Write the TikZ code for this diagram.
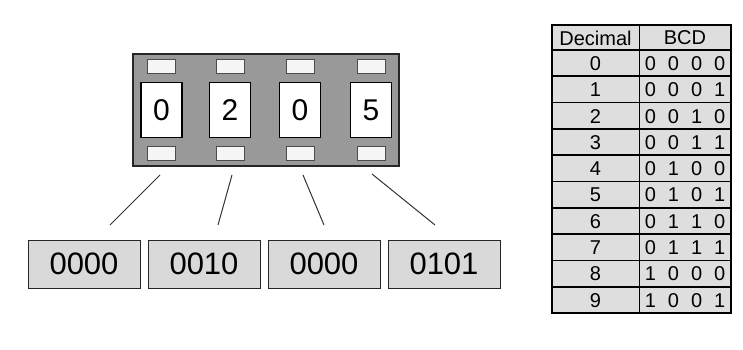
\documentclass[tikz,border=0pt]{standalone}
\usepackage{fontspec}
\setmainfont{Liberation Sans}
\newcommand{\bcdsp}[4]{#1\hspace{12pt}#2\hspace{12pt}#3\hspace{12pt}#4}
\begin{document}
\begin{tikzpicture}[x=1pt,y=-1pt,
  digitbox/.style={draw=black,line width=1.4pt,fill=white,minimum width=41pt,minimum height=55pt,inner sep=0pt,font=\fontsize{30}{30}\selectfont},
  smallrect/.style={draw=black!70,line width=1pt,fill=white!92!gray,minimum width=28pt,minimum height=14pt,inner sep=0pt},
  bcdbox/.style={draw=black!85,line width=1pt,fill=black!15,minimum width=112pt,minimum height=48pt,inner sep=0pt,font=\fontsize{31}{31}\selectfont},
  link/.style={draw=black!80,line width=1pt},
  cell/.style={inner sep=0pt,font=\fontsize{20}{20}\selectfont},
  rowline/.style={line width=1.8pt},
]
\useasboundingbox (0,0) rectangle (743,350);
% display panel
\node[draw=black!85,line width=1.4pt,fill=black!40,minimum width=266pt,minimum height=112pt,inner sep=0pt] (panel) at (266,110) {};
\foreach \n/\x/\d in {a/161.5/0,b/230/2,c/300/0,d/371/5}{
  \node[digitbox] (dig\n) at (\x,110) {\d};
  \node[smallrect] (top\n) at (\x,67) {};
  \node[smallrect] (bot\n) at (\x,153) {};
}
% BCD boxes
\node[bcdbox] (b1) at (84,264) {0000};
\node[bcdbox] (b2) at (204,264) {0010};
\node[bcdbox] (b3) at (324,264) {0000};
\node[bcdbox] (b4) at (444,264) {0101};
% connectors
\coordinate (s1) at (160,175); \coordinate (e1) at (110,225);
\coordinate (s2) at (232,175); \coordinate (e2) at (218,225);
\coordinate (s3) at (303,175); \coordinate (e3) at (324,225);
\coordinate (s4) at (372,174); \coordinate (e4) at (435,225);
\draw[link] (s1) -- (e1);
\draw[link] (s2) -- (e2);
\draw[link] (s3) -- (e3);
\draw[link] (s4) -- (e4);
% table
\fill[black!13] (552,25) rectangle (731,313);
\node[cell] (hdec) at (595.5,38) {Decimal};
\node[cell] (hbcd) at (685,38) {BCD};
\foreach \i/\p/\q/\r/\s in {0/0/0/0/0,1/0/0/0/1,2/0/0/1/0,3/0/0/1/1,4/0/1/0/0,5/0/1/0/1,6/0/1/1/0,7/0/1/1/1,8/1/0/0/0,9/1/0/0/1}{
  \node[cell] (d\i) at (595.5,{50+26.3*\i+13.6}) {\i};
  \node[cell] (c\i) at (685,{50+26.3*\i+13.6}) {\bcdsp{\p}{\q}{\r}{\s}};
}
\foreach \i in {0,...,9}{
  \draw[rowline] (552,{50+26.3*\i}) -- (731,{50+26.3*\i});
}
\draw[line width=1pt] (639,25) -- (639,313);
\draw[line width=1.8pt] (552,25) rectangle (731,313);
\end{tikzpicture}
\end{document}
